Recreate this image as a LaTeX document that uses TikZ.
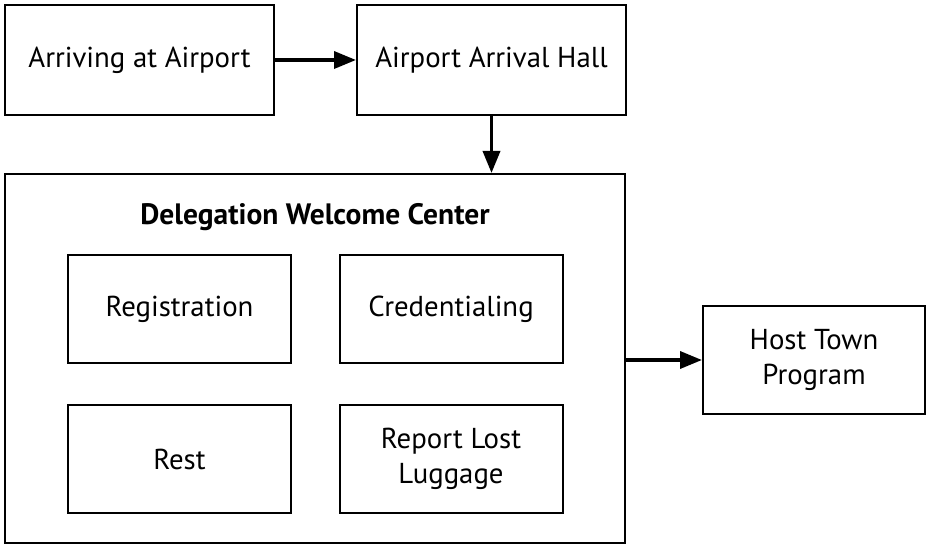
\documentclass[tikz,border=0pt]{standalone}
\usepackage{fontspec}
\setmainfont{PT Sans}
\usetikzlibrary{arrows.meta}
\begin{document}
\begin{tikzpicture}[x=1pt,y=-1pt,
  box/.style={draw, line width=2pt, inner sep=0pt, align=center,
    font=\fontsize{28.8}{35}\selectfont},
  link/.style={line width=3.5pt, -{Triangle[length=22pt,width=17pt]}}]
\useasboundingbox (0,0) rectangle (930,548);
% top row
\node[box, minimum width=269pt, minimum height=110pt] (arrive) at (139.5,60){Arriving at Airport};
\node[box, minimum width=269pt, minimum height=110pt] (hall) at (491.5,60){Airport Arrival Hall};
\draw[link](arrive) -- (hall);
% welcome center
\node[box, minimum width=620pt, minimum height=369pt] (wel) at (315,358.5){};
\node[font=\fontsize{29.5}{35}\selectfont\bfseries] (title) at (315,217){Delegation Welcome Center};
\draw[link](hall) -- (hall.south |- wel.north);
\node[box, minimum width=223pt, minimum height=108pt] (reg) at (179.5,309){Registration};
\node[box, minimum width=223pt, minimum height=108pt] (cred) at (451,309){Credentialing};
\node[box, minimum width=223pt, minimum height=108pt] (rest) at (179.5,459){Rest};
\node[box, minimum width=223pt, minimum height=108pt] (lost) at (451,459){Report Lost\\Luggage};
% exit
\node[box, minimum width=222pt, minimum height=108pt] (host) at (814,360){Host Town\\Program};
\draw[link](wel.east |- host) -- (host);
\end{tikzpicture}
\end{document}
